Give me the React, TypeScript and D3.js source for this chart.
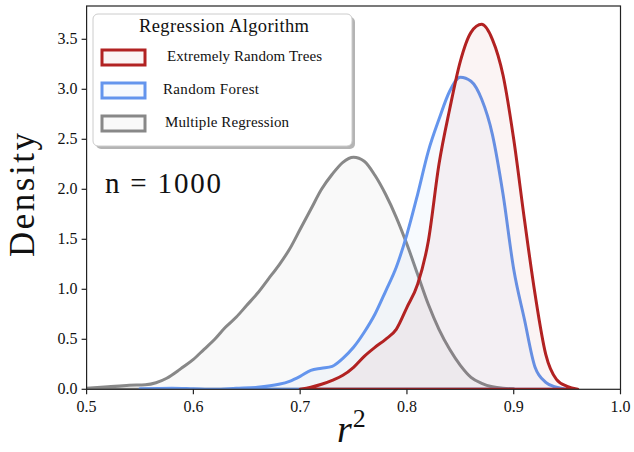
import React from "react";
import * as d3 from "d3";

const extraTreesX = [0.70,0.71,0.72,0.73,0.74,0.75,0.76,0.77,0.78,0.79,0.80,0.81,0.82,0.83,0.84,0.85,0.86,0.87,0.88,0.89,0.90,0.91,0.92,0.93,0.94,0.95,0.96];
const extraTreesY = [0.0,0.02,0.05,0.09,0.14,0.22,0.33,0.42,0.5,0.6,0.82,1.05,1.48,2.25,2.8,3.28,3.57,3.65,3.5,3.14,2.5,1.7,0.95,0.35,0.1,0.03,0.0];

const randomForestX = [0.55,0.58,0.60,0.62,0.64,0.66,0.68,0.69,0.70,0.71,0.72,0.73,0.74,0.75,0.76,0.77,0.78,0.79,0.80,0.81,0.82,0.83,0.84,0.85,0.86,0.87,0.88,0.89,0.90,0.91,0.92,0.93,0.94,0.95];
const randomForestY = [0.005,0.01,0.005,0.0,0.01,0.02,0.05,0.08,0.13,0.19,0.21,0.23,0.31,0.42,0.57,0.75,0.98,1.22,1.55,1.95,2.38,2.7,2.98,3.12,3.08,2.9,2.55,1.95,1.2,0.7,0.22,0.07,0.02,0.0];

const multiRegX = [0.50,0.52,0.54,0.555,0.565,0.575,0.585,0.59,0.60,0.61,0.62,0.63,0.64,0.65,0.66,0.67,0.68,0.69,0.70,0.71,0.72,0.73,0.74,0.75,0.76,0.77,0.78,0.79,0.80,0.81,0.82,0.83,0.84,0.85,0.86,0.87,0.88,0.89,0.90];
const multiRegY = [0.01,0.025,0.04,0.045,0.065,0.11,0.18,0.22,0.3,0.4,0.5,0.62,0.72,0.84,0.96,1.1,1.24,1.4,1.6,1.8,2.0,2.15,2.27,2.32,2.28,2.14,1.95,1.72,1.45,1.15,0.85,0.6,0.4,0.24,0.12,0.06,0.025,0.01,0.005];

const seriesNames = ["Extremely Random Trees", "Random Forest", "Multiple Regression"];
const seriesColors = ["#b22222", "#6495ed", "#888888"];
const xTicks = [0.5, 0.6, 0.7, 0.8, 0.9, 1.0];
const yTicks = [0, 0.5, 1.0, 1.5, 2.0, 2.5, 3.0, 3.5];

const W = 634, H = 452;
const M = { left: 86.6, right: 620.5, top: 6, bottom: 389.3 };
const FONT = "'Liberation Serif', 'DejaVu Serif', serif";

export default function App() {
  const x = d3.scaleLinear().domain([0.5, 1.0]).range([M.left, M.right]);
  const y = d3.scaleLinear().domain([0, 3.833]).range([M.bottom, M.top]);
  const area = d3
    .area<[number, number]>()
    .x((d) => x(d[0]))
    .y0(y(0))
    .y1((d) => y(d[1]))
    .curve(d3.curveMonotoneX);
  const series = [
    { xs: extraTreesX, ys: extraTreesY },
    { xs: randomForestX, ys: randomForestY },
    { xs: multiRegX, ys: multiRegY },
  ];
  const drawOrder = [2, 1, 0];
  return (
    <svg width={W} height={H} style={{ position: "absolute", left: 0, top: 0, background: "#fff" }}>
      <defs>
        <clipPath id="plotclip">
          <rect x={M.left} y={M.top} width={M.right - M.left} height={M.bottom - M.top} />
        </clipPath>
      </defs>
      <rect x={0} y={0} width={W} height={H} fill="#fff" />
      <g clipPath="url(#plotclip)">
        {drawOrder.map((i) => {
          const pts = series[i].xs.map((v, k) => [v, series[i].ys[k]] as [number, number]);
          return (
            <path
              key={i}
              d={area(pts) + "Z"}
              fill={seriesColors[i]}
              fillOpacity={0.05}
              stroke={seriesColors[i]}
              strokeWidth={3}
              strokeLinejoin="round"
            />
          );
        })}
      </g>
      <rect x={M.left} y={M.top} width={M.right - M.left} height={M.bottom - M.top} fill="none" stroke="#222" strokeWidth={1.2} />
      {xTicks.map((t) => (
        <g key={"x" + t}>
          <line x1={x(t)} x2={x(t)} y1={M.bottom} y2={M.bottom + 5} stroke="#222" strokeWidth={1.2} />
          <text x={x(t)} y={M.bottom + 23} textAnchor="middle" fontFamily={FONT} fontSize={16} fill="#111">
            {t.toFixed(1)}
          </text>
        </g>
      ))}
      {yTicks.map((t) => (
        <g key={"y" + t}>
          <line x1={M.left - 5} x2={M.left} y1={y(t)} y2={y(t)} stroke="#222" strokeWidth={1.2} />
          <text x={M.left - 9} y={y(t) + 5} textAnchor="end" fontFamily={FONT} fontSize={16} fill="#111">
            {t.toFixed(1)}
          </text>
        </g>
      ))}
      <text
        transform={`translate(34,195) rotate(-90)`}
        textAnchor="middle"
        fontFamily={FONT}
        fontSize={35}
        textLength={124}
        lengthAdjust="spacing"
        fill="#111"
      >
        Density
      </text>
      <text x={337} y={442} fontFamily={FONT} fontSize={38} fontStyle="italic" fill="#111">
        r<tspan dy={-15} dx={1} fontSize={26} fontStyle="normal">2</tspan>
      </text>
      <text x={105} y={193} fontFamily={FONT} fontSize={29} textLength={116} lengthAdjust="spacing" fill="#111">
        n = 1000
      </text>
      <g>
        <rect x={96} y={17} width={259} height={132} rx={5} fill="#777" opacity={0.55} />
        <rect x={93} y={14} width={259} height={132} rx={5} fill="#fff" stroke="#ccc" strokeWidth={1} />
        <text x={139} y={32} fontFamily={FONT} fontSize={18.5} textLength={170} lengthAdjust="spacing" fill="#111">
          Regression Algorithm
        </text>
        {seriesNames.map((name, i) => {
          const yy = 50 + i * 33;
          const tx = [167, 163, 165][i];
          const tl = [155, 96, 124][i];
          return (
            <g key={name}>
              <rect x={102} y={yy} width={43} height={15} fill={seriesColors[i]} fillOpacity={0.05} stroke={seriesColors[i]} strokeWidth={3} />
              <text x={tx} y={yy + 11} fontFamily={FONT} fontSize={15} textLength={tl} lengthAdjust="spacing" fill="#111">
                {name}
              </text>
            </g>
          );
        })}
      </g>
    </svg>
  );
}
